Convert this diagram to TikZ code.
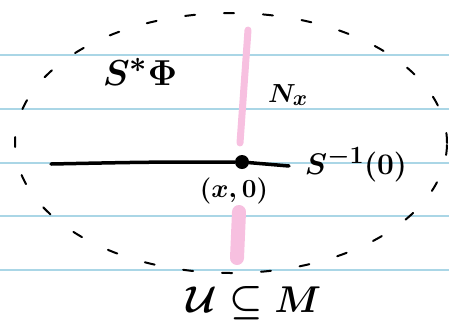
\documentclass[tikz,border=0pt]{standalone}
\usepackage{amsmath,amssymb}
\usepackage{tikz}
\definecolor{ruled}{RGB}{170,214,230}
\definecolor{hilite}{RGB}{247,192,224}
\tikzset{rule/.style={ruled, line width=1.2pt},
  pinkline/.style={hilite, line width=#1, line cap=round},
  dot/.style={circle, fill=black, inner sep=0pt, minimum size=14pt},
  lbl/.style={font=\Huge\boldmath, inner sep=0pt, scale=#1}}

\begin{document}
\begin{tikzpicture}[x=1pt,y=-1pt]
\useasboundingbox (0,0) rectangle (449,322);
\foreach \y in {55,109,163,216,270}
  \draw[rule] (0,\y) -- (449,\y);
\draw[dash pattern=on 10pt off 29pt, line width=2pt, line cap=round] (231,143) ellipse [x radius=216pt, y radius=130pt];

\coordinate (T1) at (248,30);
\coordinate (T2) at (240,143);
\coordinate (B1) at (239,212);
\coordinate (B2) at (237,258);
\draw[pinkline=7pt] (T1) -- (T2);
\draw[pinkline=14pt] (B1) -- (B2);

\coordinate (L) at (51,164);
\node[dot] (P) at (242,162) {};
\coordinate (R) at (289,166);
\draw[line width=3.5pt, line cap=round] (L) .. controls (150,162) .. (P) -- (R);

\node[lbl=1.45] (phi) at (140,72) {$S^*\Phi$};
\node[lbl=1.05] (N) at (288,95) {$N_x$};
\node[lbl=1.2] (zero) at (356,165) {$S^{-1}(0)$};
\node[lbl=1.05] (pt) at (234,191) {$(x,0)$};
\node[lbl=1.5] (UM) at (254,303) {$\mathcal{U}\subseteq M$};
\end{tikzpicture}
\end{document}
